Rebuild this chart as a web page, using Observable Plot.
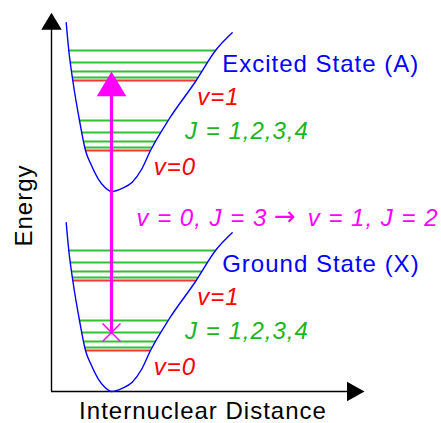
<!DOCTYPE html>
<html><head><meta charset="utf-8">
<script src="https://cdn.jsdelivr.net/npm/d3@7"></script>
<script src="https://cdn.jsdelivr.net/npm/@observablehq/plot@0.6"></script>
<style>
body{margin:0;background:#fff}
svg text{letter-spacing:1px}
g[aria-label="vib-labels"] text, g[aria-label="arrow-glyph"] text{letter-spacing:0}
</style></head><body><div id="chart"></div>
<script>
// Potential well shape (shared by both electronic states)
const wellR = [14.7, 17.3, 21.3, 28, 34, 40, 46.7, 53.3, 60, 70.7, 80.7, 90, 99, 117.3, 144.7, 164, 180.7];
const wellE = [168.7, 141, 111, 71, 41, 26, 12.7, 4.3, 0, 3.3, 9.3, 22, 41, 72, 111, 141, 158.7];
const stateNames = ["Ground State (X)", "Excited State (A)"];
const stateMinE = [0, 200];
const vibNames = ["v=0", "v=1"];
const vibE = [41, 111];
const rotJ = [0, 1, 2, 3, 4];
const rotE = [0, 3, 9, 18, 30];
const rotLabel = "J = 1,2,3,4";
const transitionParts = ["v = 0, J = 3", "\u2192", "v = 1, J = 2"];
const transitionFrom = [0, 0, 3]; // state, v, J
const transitionTo = [1, 1, 2];
const xTitle = "Internuclear Distance";
const yTitle = "Energy";

const minIdx = wellE.indexOf(d3.min(wellE));
function branchR(e, side) {
  const idx = side === "left" ? d3.range(0, minIdx + 1) : d3.range(minIdx, wellR.length);
  for (let k = 0; k < idx.length - 1; k++) {
    const a = idx[k], b = idx[k + 1];
    const lo = Math.min(wellE[a], wellE[b]), hi = Math.max(wellE[a], wellE[b]);
    if (e >= lo && e <= hi) {
      const t = (e - wellE[a]) / (wellE[b] - wellE[a]);
      return wellR[a] + t * (wellR[b] - wellR[a]);
    }
  }
  return NaN;
}

const curves = [];
stateMinE.forEach((E0, s) => wellR.forEach((r, i) => curves.push({state: s, r, E: E0 + wellE[i]})));

const levels = [];
stateMinE.forEach((E0, s) => vibE.forEach((ev, v) => rotJ.forEach((J, j) => {
  const e = ev + rotE[j];
  levels.push({state: s, v, J, E: E0 + e, r1: branchR(e, "left"), r2: branchR(e, "right")});
})));

const levelE = (s, v, J) => stateMinE[s] + vibE[v] + rotE[rotJ.indexOf(J)];
const rT = wellR[minIdx];
const eFrom = levelE(...transitionFrom), eTo = levelE(...transitionTo);

// annotation placement (relative to each state's minimum)
const nameLabels = stateNames.map((t, s) => ({t, r: 170.7, E: stateMinE[s] + 119.5}));
const vibLabelData = [];
stateMinE.forEach((E0) => {
  vibLabelData.push({t: vibNames[1], r: 145.7, E: E0 + 87});
  vibLabelData.push({t: vibNames[0], r: 102.3, E: E0 + 17});
});
const rotLabelData = stateMinE.map(E0 => ({t: rotLabel, r: 133.6, E: E0 + 52.5}));
const transE = 165.3;

const headUp = (w, h) => ({draw(c) { c.moveTo(0, 0); c.lineTo(-w / 2, h); c.lineTo(w / 2, h); c.closePath(); }});
const headRight = (w, h) => ({draw(c) { c.moveTo(0, 0); c.lineTo(-h, -w / 2); c.lineTo(-h, w / 2); c.closePath(); }});

const xEnd = 313, yEnd = 378.7;
const font = "Liberation Sans, Arial, Helvetica, sans-serif";
const italic = {fontSize: 24, fontStyle: "italic", fontFamily: font, lineAnchor: "bottom"};

const chart = Plot.plot({
  width: 441, height: 423,
  margin: 0,
  x: {domain: [0, xEnd], range: [51, 364], axis: null},
  y: {domain: [0, yEnd], range: [391, 12.3], axis: null},
  style: {fontFamily: font, background: "white"},
  marks: [
    // axes
    Plot.ruleX([0], {y1: 0, y2: yEnd - 5, stroke: "black", strokeWidth: 1.4}),
    Plot.ruleY([0], {x1: 0, x2: xEnd - 5, stroke: "black", strokeWidth: 1.4}),
    Plot.dot([{r: 0, E: yEnd}], {x: "r", y: "E", symbol: headUp(20.5, 17), fill: "black", stroke: "none"}),
    Plot.dot([{r: xEnd, E: 0}], {x: "r", y: "E", symbol: headRight(19.5, 17.5), fill: "black", stroke: "none"}),
    // energy levels
    Plot.ruleY(levels, {y: "E", x1: "r1", x2: "r2", stroke: d => d.J === 0 ? "#ff3333" : "#33c033", strokeWidth: 2}),
    // potential curves
    Plot.line(curves, {x: "r", y: "E", z: "state", stroke: "#0000ff", strokeWidth: 1.4, curve: "monotone-x"}),
    // transition arrow
    Plot.link([{r: rT, e1: eFrom, e2: eTo - 20}], {x1: "r", x2: "r", y1: "e1", y2: "e2", stroke: "#ff00ff", strokeWidth: 3.2}),
    Plot.dot([{r: rT, E: eTo}], {x: "r", y: "E", symbol: headUp(29.5, 24.8), fill: "#ff00ff", stroke: "none"}),
    Plot.dot([{r: rT, E: eFrom}], {x: "r", y: "E", symbol: "times", r: 8.2, stroke: "#ff00ff", strokeWidth: 1.5}),
    // labels
    Plot.text(nameLabels, {x: "r", y: "E", text: "t", fill: "#0000ff", fontSize: 24, fontFamily: font, textAnchor: "start", lineAnchor: "bottom"}),
    Plot.text(vibLabelData, {x: "r", y: "E", text: "t", fill: "#ff0000", ...italic, textAnchor: "start", ariaLabel: "vib-labels"}),
    Plot.text(rotLabelData, {x: "r", y: "E", text: "t", fill: "#1db51d", ...italic, textAnchor: "start"}),
    Plot.text([{t: transitionParts[0], r: 85, E: transE}], {x: "r", y: "E", text: "t", fill: "#ff00ff", ...italic, textAnchor: "start"}),
    Plot.text([{t: transitionParts[1], r: 234, E: transE + 1}], {x: "r", y: "E", text: "t", fill: "#ff00ff", fontSize: 26, fontFamily: "DejaVu Sans", lineAnchor: "bottom", textAnchor: "middle", ariaLabel: "arrow-glyph"}),
    Plot.text([{t: transitionParts[2], r: 387, E: transE}], {x: "r", y: "E", text: "t", fill: "#ff00ff", ...italic, textAnchor: "end"}),
    Plot.text([{t: xTitle, r: 151.5, E: -27.5}], {x: "r", y: "E", text: "t", fill: "black", fontSize: 24, fontFamily: font, textAnchor: "middle", lineAnchor: "bottom"}),
    Plot.text([{t: yTitle, r: -20, E: 186}], {x: "r", y: "E", text: "t", fill: "black", fontSize: 24, fontFamily: font, textAnchor: "middle", lineAnchor: "bottom", rotate: -90})
  ]
});
document.getElementById("chart").appendChild(chart);
</script>
</body></html>
